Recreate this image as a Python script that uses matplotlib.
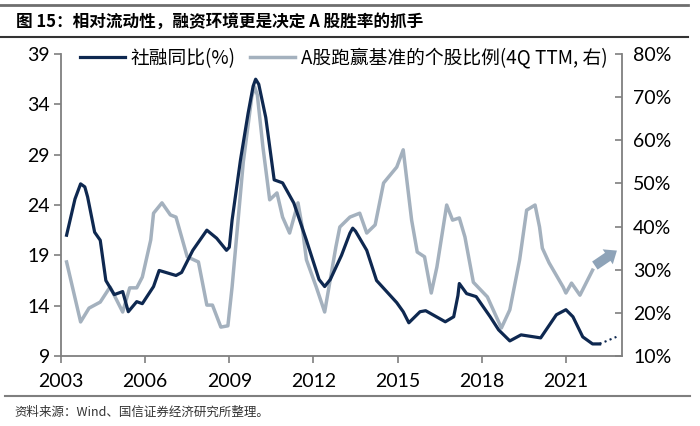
'''
社融同比 vs A股跑赢基准的个股比例
'''

import matplotlib.pyplot as plt
from matplotlib.ticker import FuncFormatter

plt.rcParams['font.family'] = ['Noto Sans CJK SC', 'DejaVu Sans']

# 社融同比 (%), left axis
tsf_year = [2003.2, 2003.5, 2003.7, 2003.85, 2003.95, 2004.2, 2004.4, 2004.6, 2004.9, 2005.2,
            2005.4, 2005.7, 2005.9, 2006.3, 2006.5, 2007.1, 2007.3, 2007.7, 2008.2,
            2008.55, 2008.9, 2009.0, 2009.1, 2009.4, 2009.67, 2009.85, 2009.94, 2010.05,
            2010.3, 2010.6, 2010.9, 2011.3, 2011.75, 2012.2, 2012.4, 2012.6, 2013.0,
            2013.3, 2013.4, 2013.5, 2013.9, 2014.25, 2014.97, 2015.2, 2015.4, 2015.8,
            2016.0, 2016.7, 2017.0, 2017.15, 2017.2, 2017.46, 2017.8, 2018.3, 2018.6,
            2019.0, 2019.4, 2020.1, 2020.66, 2021.0, 2021.25, 2021.6, 2021.95, 2022.2]
tsf_val = [21.0, 24.6, 26.1, 25.8, 24.8, 21.3, 20.5, 16.5, 15.1, 15.4,
           13.4, 14.4, 14.2, 15.9, 17.5, 17.0, 17.3, 19.5, 21.5,
           20.7, 19.5, 19.8, 22.5, 28.5, 33.1, 35.8, 36.5, 36.0,
           32.7, 26.5, 26.2, 24.2, 20.5, 16.6, 15.9, 16.6, 19.0,
           21.2, 21.7, 21.4, 19.5, 16.5, 14.3, 13.4, 12.3, 13.4,
           13.5, 12.4, 12.9, 15.0, 16.2, 15.2, 14.9, 12.9, 11.6,
           10.5, 11.1, 10.8, 13.1, 13.6, 12.9, 10.9, 10.2, 10.2]
# dotted forecast
fc_year = [2022.2, 2022.8]
fc_val = [10.2, 10.9]

# A股跑赢基准的个股比例 (%), right axis
win_year = [2003.2, 2003.7, 2004.0, 2004.4, 2004.75, 2005.2, 2005.45, 2005.7, 2005.9,
            2006.2, 2006.3, 2006.6, 2006.9, 2007.1, 2007.3, 2007.5, 2007.9, 2008.2,
            2008.4, 2008.7, 2008.95, 2009.1, 2009.5, 2009.8, 2009.9, 2010.0, 2010.2,
            2010.44, 2010.7, 2010.9, 2011.15, 2011.45, 2011.6, 2011.75, 2012.1, 2012.4,
            2012.8, 2012.94, 2013.3, 2013.65, 2013.9, 2014.2, 2014.5, 2014.97, 2015.2,
            2015.5, 2015.7, 2015.96, 2016.2, 2016.4, 2016.75, 2016.96, 2017.2, 2017.4,
            2017.7, 2018.2, 2018.7, 2019.0, 2019.35, 2019.6, 2019.9, 2020.06, 2020.16,
            2020.4, 2020.9, 2021.0, 2021.2, 2021.5, 2021.95]
win_val = [31.8, 17.9, 21.1, 22.5, 26.0, 20.2, 25.8, 25.8, 28.3,
           36.9, 43.1, 45.5, 42.7, 42.2, 37.6, 33.0, 31.8, 21.8,
           21.8, 16.7, 17.0, 26.0, 55.0, 70.0, 72.4, 70.5, 58.4,
           46.2, 47.8, 42.2, 38.5, 45.5, 39.9, 32.3, 26.0, 20.2,
           35.3, 39.9, 42.2, 43.1, 38.5, 40.4, 50.1, 53.8, 57.8,
           41.5, 34.1, 33.0, 24.6, 30.6, 45.0, 41.5, 42.0, 37.6,
           27.1, 23.7, 16.5, 20.7, 32.3, 43.8, 45.0, 39.9, 35.0,
           31.6, 26.0, 24.6, 26.9, 24.1, 29.9]

x_ticks = [2003, 2006, 2009, 2012, 2015, 2018, 2021]
left_ticks = [9, 14, 19, 24, 29, 34, 39]
right_ticks = [10, 20, 30, 40, 50, 60, 70, 80]

navy = '#0e2850'
grey = '#a4b1be'
axis_grey = '#7f7f7f'

fig = plt.figure(figsize=(7, 4.26), dpi=100)
ax = fig.add_axes([0.0871, 0.1643, 0.8015, 0.7089])
ax2 = ax.twinx()

l1, = ax.plot(tsf_year, tsf_val, color=navy, lw=2.3, label='社融同比(%)', zorder=3,
              solid_joinstyle='round')
ax.plot(fc_year, fc_val, color=navy, lw=1.5, ls=(0, (1, 1.6)))
l2, = ax2.plot(win_year, win_val, color=grey, lw=2.5, solid_joinstyle='round',
               label='A股跑赢基准的个股比例(4Q TTM, 右)')
ax.set_zorder(ax2.get_zorder() + 1)
ax.patch.set_visible(False)

ax.set_xlim(2003, 2023)
ax.set_ylim(9, 39)
ax2.set_ylim(10, 80)
ax.set_xticks(x_ticks)
ax.set_yticks(left_ticks)
ax2.set_yticks(right_ticks)
ax2.yaxis.set_major_formatter(FuncFormatter(lambda v, p: '%d%%' % v))

for a in (ax, ax2):
    a.spines['top'].set_visible(False)
    for s in a.spines.values():
        s.set_color(axis_grey)
        s.set_linewidth(1.3)
ax.spines['right'].set_visible(False)
ax2.spines['left'].set_visible(False)
ax2.spines['bottom'].set_visible(False)

ax.tick_params(axis='both', direction='out', length=5, width=1.2, color=axis_grey,
               labelsize=14, pad=3)
ax.tick_params(axis='x', pad=7)
ax2.tick_params(axis='y', direction='in', length=5, width=1.2, color=axis_grey,
                labelsize=14, pad=8)
for lab in ax.get_xticklabels() + ax.get_yticklabels() + ax2.get_yticklabels():
    lab.set_fontfamily('Lato')

# arrow hinting the upturn
ax2.annotate('', xy=(2022.9, 34.8), xytext=(2021.95, 30.6),
             arrowprops=dict(arrowstyle='simple,head_length=0.8,head_width=1.3,tail_width=0.7',
                             color='#8ea3b8', lw=0))

ax.legend(handles=[l1, l2], loc='upper left', bbox_to_anchor=(0.02, 1.045), ncol=2,
          frameon=False, fontsize=13.5, handlelength=2.4, columnspacing=0.8,
          handletextpad=0.3, borderaxespad=0)

# header / footer rules
fig.add_artist(plt.Line2D([0, 0.983], [0.988, 0.988], color='#6e6e6e', lw=2))
fig.add_artist(plt.Line2D([0, 0.983], [0.913, 0.913], color='#333333', lw=1.5))
fig.add_artist(plt.Line2D([0.007, 0.986], [0.07, 0.07], color='#7f7f7f', lw=1.5))
fig.text(0.023, 0.949, '图 15：相对流动性，融资环境更是决定 A 股胜率的抓手', fontsize=12,
         fontweight='bold', va='center', ha='left')
fig.text(0.021, 0.033, '资料来源：Wind、国信证券经济研究所整理。', fontsize=9,
         va='center', ha='left', color='#333333')

plt.savefig('out.png', dpi=100)
